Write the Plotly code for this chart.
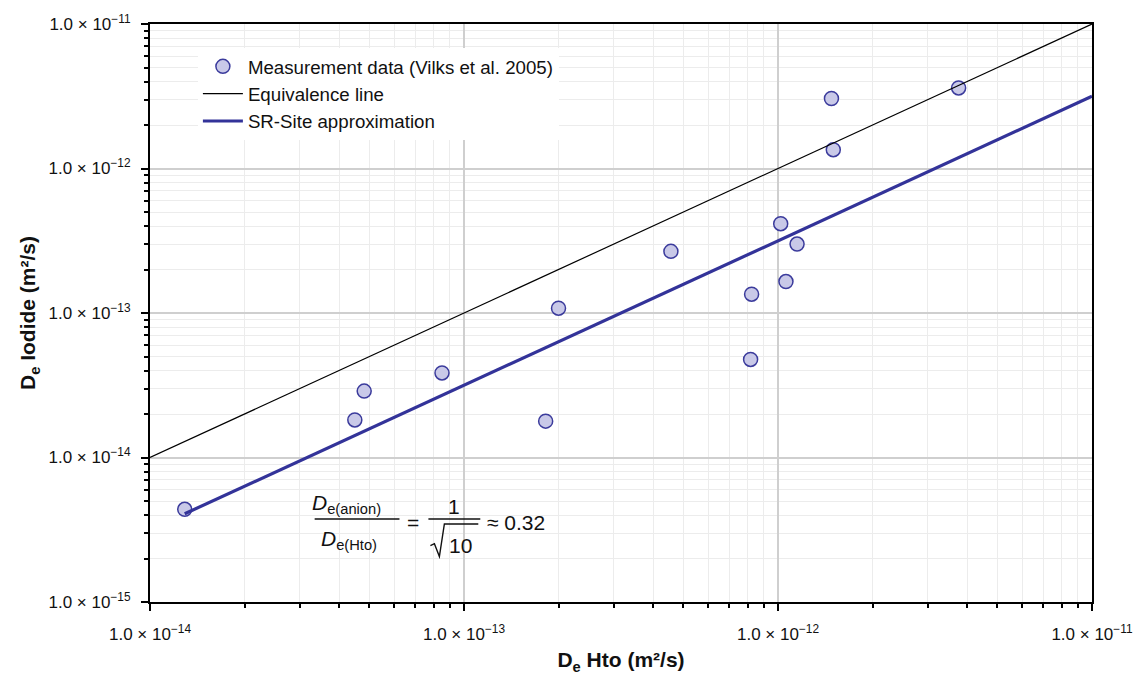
import plotly.graph_objects as go

# ---- data ----
hto = [1.29e-14, 4.49e-14, 4.81e-14, 8.51e-14, 1.82e-13, 2.00e-13, 4.56e-13,
       8.18e-13, 8.24e-13, 1.02e-12, 1.06e-12, 1.15e-12, 1.48e-12, 1.50e-12, 3.76e-12]
iodide = [4.38e-15, 1.82e-14, 2.88e-14, 3.85e-14, 1.785e-14, 1.08e-13, 2.67e-13,
          4.77e-14, 1.35e-13, 4.15e-13, 1.65e-13, 3.00e-13, 3.05e-12, 1.35e-12, 3.61e-12]
equiv_x = [1e-14, 1e-11]
equiv_y = [1e-14, 1e-11]
sr_x = [1.29e-14, 1e-11]
sr_y = [4.08e-15, 3.16e-12]

x_decades = [-14, -13, -12, -11]
y_decades = [-15, -14, -13, -12, -11]
x_ticktext = ["1.0 × 10<sup>−14</sup>", "1.0 × 10<sup>−13</sup>",
              "1.0 × 10<sup>−12</sup>", "1.0 × 10<sup>−11</sup>"]
y_ticktext = ["1.0 × 10<sup>−15</sup>", "1.0 × 10<sup>−14</sup>", "1.0 × 10<sup>−13</sup>",
              "1.0 × 10<sup>−12</sup>", "1.0 × 10<sup>−11</sup>"]

W, H = 1145, 680
L, R, T, B = 150, 51, 22, 73
PW, PH = W - L - R, H - T - B


def px(x):
    return (x - L) / PW


def py(y):
    return (H - B - y) / PH


def minor_vals(decs):
    return [m * 10.0 ** d for d in decs[:-1] for m in range(2, 10)]


FONT = "Liberation Sans, Arial, sans-serif"
TXT = "#111"
fig = go.Figure()

fig.add_trace(go.Scatter(
    x=hto, y=iodide, mode="markers", name="Measurement data (Vilks et al. 2005)",
    marker=dict(size=14, color="#c9c9e8", line=dict(color="#3b3b9c", width=1.5)),
))
fig.add_trace(go.Scatter(
    x=equiv_x, y=equiv_y, mode="lines", name="Equivalence line",
    line=dict(color="black", width=1.2),
))
fig.add_trace(go.Scatter(
    x=sr_x, y=sr_y, mode="lines", name="SR-Site approximation",
    line=dict(color="#333399", width=3.2),
))

axis_common = dict(
    type="log", showline=True, linecolor="black", linewidth=2, mirror=True,
    ticks="outside", ticklen=7, tickwidth=1.5, tickcolor="black",
    showgrid=True, gridcolor="#cfcfcf", gridwidth=1.5, zeroline=False,
    tickfont=dict(family=FONT, size=17, color=TXT),
    tickmode="array",
)

fig.update_xaxes(
    range=[-14, -11],
    tickvals=[10.0 ** d for d in x_decades], ticktext=x_ticktext,
    minor=dict(tickmode="array", tickvals=minor_vals(x_decades), ticks="outside",
               ticklen=4, tickcolor="black", showgrid=True, gridcolor="#ececec", gridwidth=1),
    ticklabelstandoff=9,
    title=dict(text="<b>D<sub>e</sub> Hto (m²/s)</b>", font=dict(family=FONT, size=21, color=TXT),
               standoff=9),
    **axis_common,
)
fig.update_yaxes(
    range=[-15, -11],
    tickvals=[10.0 ** d for d in y_decades], ticktext=y_ticktext,
    minor=dict(tickmode="array", tickvals=minor_vals(y_decades), ticks="outside",
               ticklen=4, tickcolor="black", showgrid=True, gridcolor="#ececec", gridwidth=1),
    ticklabelstandoff=7,
    title=dict(text="<b>D<sub>e</sub> Iodide (m²/s)</b>", font=dict(family=FONT, size=21, color=TXT),
               standoff=7),
    **axis_common,
)

# formula box and fraction elements
shapes = [
    dict(type="rect", xref="paper", yref="paper", x0=px(308), x1=px(572), y0=py(572), y1=py(487),
         fillcolor="white", line=dict(width=0), layer="between"),
    dict(type="line", xref="paper", yref="paper", x0=px(315), x1=px(400), y0=py(523), y1=py(523),
         line=dict(color=TXT, width=1.6)),
    dict(type="line", xref="paper", yref="paper", x0=px(429), x1=px(481), y0=py(523), y1=py(523),
         line=dict(color=TXT, width=1.6)),
    dict(type="path", xref="paper", yref="paper",
         path=f"M {px(431)},{py(550)} L {px(435)},{py(548)} L {px(440)},{py(561)} "
              f"L {px(445)},{py(528)} L {px(479)},{py(528)}",
         line=dict(color=TXT, width=1.4)),
]

ann = []


def add_text(text, x, y, size=17, xanchor="center"):
    ann.append(dict(text=text, x=px(x), y=py(y), xref="paper", yref="paper",
                    showarrow=False, xanchor=xanchor, yanchor="middle",
                    font=dict(family=FONT, size=size, color=TXT)))


add_text("<i>D</i><sub>e(anion)</sub>", 347, 508, size=21)
add_text("<i>D</i><sub>e(Hto)</sub>", 349, 544, size=21)
add_text("=", 414, 527, size=21)
add_text("1", 455, 510, size=21)
add_text("10", 461, 550, size=21)
add_text("≈ 0.32", 486, 527, size=21, xanchor="left")

fig.update_layout(
    width=W, height=H,
    margin=dict(l=L, r=R, t=T, b=B),
    paper_bgcolor="white", plot_bgcolor="white",
    font=dict(family=FONT, color=TXT),
    showlegend=True,
    legend=dict(x=px(198), y=py(46), xanchor="left", yanchor="top",
                bgcolor="white", borderwidth=0, itemwidth=40,
                font=dict(family=FONT, size=18.7, color=TXT)),
    shapes=shapes,
    annotations=ann,
)

fig.write_html("out.html")
